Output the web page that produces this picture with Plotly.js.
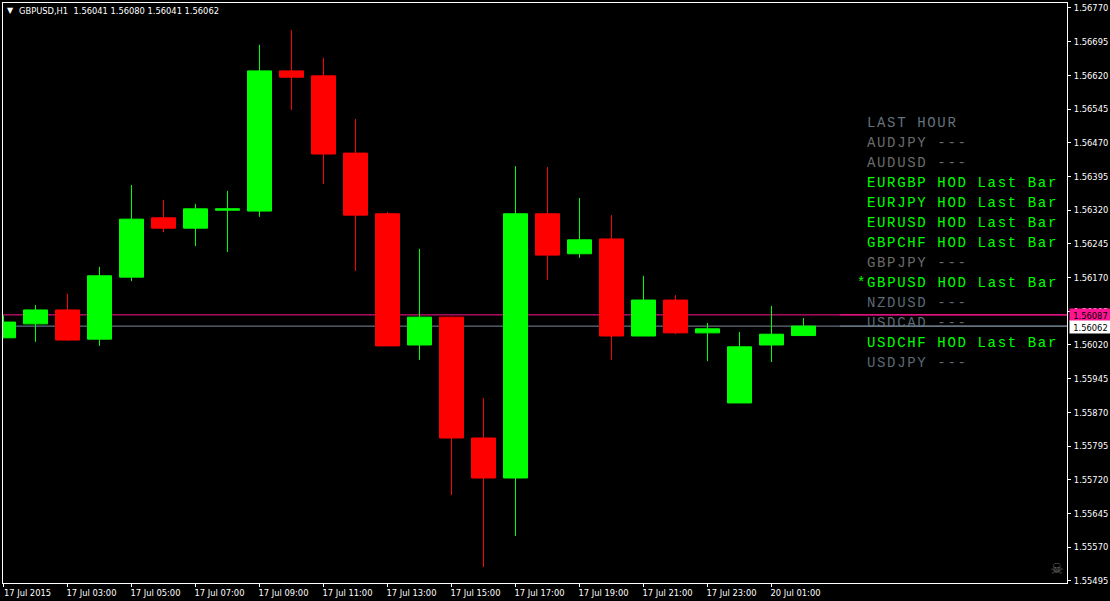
<!DOCTYPE html>
<html><head><meta charset="utf-8">
<script src="https://cdn.plot.ly/plotly-3.0.1.min.js"></script>
<style>
html,body{margin:0;padding:0;background:#000}
#c{width:1110px;height:601px}
.textpoint text{letter-spacing:1.65px}
</style></head><body><div id="c"></div>
<script>
const open_ =[1.56036,1.56067,1.56098,1.56033,1.56171,1.56303,1.56280,1.56320,1.56318,1.56630,1.56619,1.56447,1.56312,1.56020,1.56082,1.55813,1.55724,1.56312,1.56223,1.56256,1.56040,1.56120,1.56047,1.55891,1.56020,1.56041];
const high  =[1.56086,1.56109,1.56134,1.56194,1.56376,1.56343,1.56334,1.56363,1.56688,1.56721,1.56659,1.56523,1.56316,1.56234,1.56083,1.55902,1.56418,1.56416,1.56347,1.56309,1.56174,1.56131,1.56069,1.56049,1.56107,1.56080];
const low   =[1.56036,1.56027,1.56029,1.56018,1.56162,1.56271,1.56240,1.56227,1.56305,1.56543,1.56378,1.56185,1.56018,1.55987,1.55686,1.55526,1.55595,1.56165,1.56214,1.55987,1.56040,1.56044,1.55984,1.55891,1.55982,1.56041];
const close_=[1.56071,1.56098,1.56031,1.56174,1.56300,1.56280,1.56323,1.56323,1.56630,1.56616,1.56445,1.56309,1.56018,1.56082,1.55813,1.55724,1.56312,1.56220,1.56254,1.56040,1.56120,1.56047,1.56056,1.56016,1.56044,1.56062];
const xTickVals=[0,2,4,6,8,10,12,14,16,18,20,22,24];
const xTickText=["17 Jul 2015","17 Jul 03:00","17 Jul 05:00","17 Jul 07:00","17 Jul 09:00","17 Jul 11:00","17 Jul 13:00","17 Jul 15:00","17 Jul 17:00","17 Jul 19:00","17 Jul 21:00","17 Jul 23:00","20 Jul 01:00"];
const panelText=["LAST HOUR","AUDJPY ---","AUDUSD ---","EURGBP HOD Last Bar","EURJPY HOD Last Bar","EURUSD HOD Last Bar","GBPCHF HOD Last Bar","GBPJPY ---","*GBPUSD HOD Last Bar","NZDUSD ---","USDCAD ---","USDCHF HOD Last Bar","USDJPY ---"];
const panelColor=["#66717c","#6b6b6b","#6b6b6b","#00ff00","#00ff00","#00ff00","#00ff00","#6b6b6b","#00ff00","#5d6975","#5d6975","#00ff00","#5d6975"];
const bidLine=1.56062, askLine=1.56087;
const headerText="GBPUSD,H1  1.56041 1.56080 1.56041 1.56062";

const F="'DejaVu Sans Condensed','Liberation Sans',sans-serif";
const FS=9.25;
const X0=[-0.0156,33.234], Y0=[1.554903,1.567811];
const L=3,T=3,W=1064,H=580;
const xAt=px=>X0[0]+(px-L)/W*(X0[1]-X0[0]);
const yAt=py=>Y0[1]-(py-T)/H*(Y0[1]-Y0[0]);
const idx=open_.map((_,i)=>i);
const fx=px=>(px-L)/W, fy=py=>1-(py-T)/H;

const traces=[
 {type:'candlestick',x:idx,open:open_,high:high,low:low,close:close_,
  increasing:{line:{color:'#00ff00',width:1},fillcolor:'#00ff00'},
  decreasing:{line:{color:'#ff0000',width:1},fillcolor:'#ff0000'},
  whiskerwidth:0,hoverinfo:'skip',showlegend:false},
 {type:'scatter',mode:'text',
  x:panelText.map(t=>xAt(t[0]==='*'?857:867)),
  y:panelText.map((t,i)=>yAt(123+20*i)),
  text:panelText,textposition:'middle right',
  textfont:{family:"'Liberation Mono',monospace",size:14,color:panelColor},
  hoverinfo:'skip',showlegend:false,cliponaxis:false},
 {type:'scatter',mode:'lines',x:[xAt(840),xAt(1067)],y:[askLine,askLine],line:{color:'#ff1493',width:1},hoverinfo:'skip',showlegend:false},
 {type:'scatter',mode:'lines',x:[xAt(840),xAt(1067)],y:[bidLine,bidLine],line:{color:'#778899',width:1},hoverinfo:'skip',showlegend:false}
];
const layout={
 width:1110,height:601,margin:{l:L,r:43,t:T,b:18,pad:0},
 paper_bgcolor:'#000',plot_bgcolor:'#000',showlegend:false,
 boxmode:'group',boxgap:0.25,boxgroupgap:0,
 font:{family:F,size:FS,color:'#fff'},
 xaxis:{type:'linear',range:X0,tickmode:'array',tickvals:xTickVals,ticktext:xTickText,
  ticks:'outside',ticklen:3,tickwidth:1,tickcolor:'#fff',tickangle:0,
  ticklabelshift:24,ticklabelstandoff:-2,tickfont:{family:F,size:FS,color:'#fff'},
  showgrid:false,zeroline:false,showline:true,linecolor:'#fff',linewidth:1,mirror:true,
  rangeslider:{visible:false},automargin:false},
 yaxis:{side:'right',range:Y0,tick0:1.55495,dtick:0.00075,tickformat:'.5f',
  ticks:'outside',ticklen:3,tickwidth:1,tickcolor:'#fff',ticklabelstandoff:1,
  tickfont:{family:F,size:FS,color:'#fff'},
  showgrid:false,zeroline:false,showline:true,linecolor:'#fff',linewidth:1,mirror:true,automargin:false},
 shapes:[
  {type:'line',xref:'paper',x0:0,x1:1,yref:'y',y0:askLine,y1:askLine,layer:'below',line:{color:'#ff1493',width:1}},
  {type:'line',xref:'paper',x0:0,x1:1,yref:'y',y0:bidLine,y1:bidLine,layer:'below',line:{color:'#778899',width:1}}
 ],
 annotations:[
  {xref:'paper',yref:'paper',x:fx(18),y:fy(10.5),xanchor:'left',yanchor:'middle',text:headerText,showarrow:false,
   font:{family:F,size:FS,color:'#fff'},borderpad:0},
  {xref:'paper',yref:'paper',x:fx(5.5),y:fy(10.5),xanchor:'left',yanchor:'middle',text:'▼',showarrow:false,
   font:{family:"'DejaVu Sans'",size:8,color:'#fff'},borderpad:0},
  {xref:'paper',yref:'paper',x:fx(1056.5),y:fy(568.5),xanchor:'center',yanchor:'middle',text:'☠',showarrow:false,
   font:{family:"'DejaVu Sans'",size:15,color:'#666'},borderpad:0},
  {xref:'paper',yref:'paper',x:fx(1069),y:fy(315),xanchor:'left',yanchor:'middle',text:'1.56087',showarrow:false,
   font:{family:F,size:FS,color:'#000'},bgcolor:'#ff1493',width:41,height:12,align:'center',borderpad:0},
  {xref:'paper',yref:'paper',x:fx(1069),y:fy(326.5),xanchor:'left',yanchor:'middle',text:'1.56062',showarrow:false,
   font:{family:F,size:FS,color:'#000'},bgcolor:'#fff',width:41,height:12,align:'center',borderpad:0}
 ]
};
Plotly.newPlot('c',traces,layout,{displayModeBar:false,staticPlot:true});
</script></body></html>
